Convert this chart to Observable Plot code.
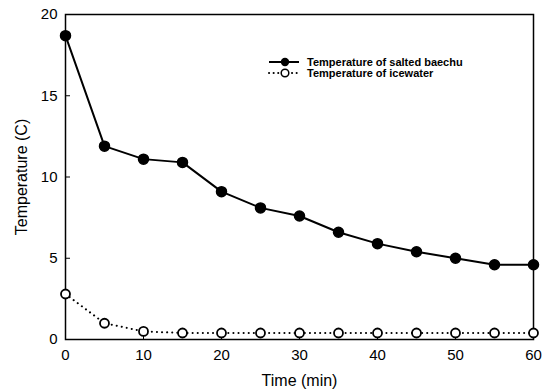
<!DOCTYPE html>
<html>
<head>
<meta charset="utf-8">
<script src="https://cdn.jsdelivr.net/npm/d3@7"></script>
<script src="https://cdn.jsdelivr.net/npm/@observablehq/plot@0.6"></script>
<style>
  html, body { margin: 0; padding: 0; background: #fff; }
  #wrap { position: relative; width: 550px; height: 392px; font-family: "Liberation Sans", Arial, sans-serif; }
  #legend { position: absolute; left: 268px; top: 57px; font-size: 11px; font-weight: bold; color: #000; }
  #legend .row { display: flex; align-items: center; height: 10.5px; margin-bottom: 0; }
  #legend svg { margin-right: 7px; }
</style>
</head>
<body>
<div id="wrap"></div>
<script>
const times = [0, 5, 10, 15, 20, 25, 30, 35, 40, 45, 50, 55, 60];
const baechu = [18.7, 11.9, 11.1, 10.9, 9.1, 8.1, 7.6, 6.6, 5.9, 5.4, 5.0, 4.6, 4.6];
const icewater = [2.8, 1.0, 0.5, 0.4, 0.4, 0.4, 0.4, 0.4, 0.4, 0.4, 0.4, 0.4, 0.4];
const seriesNames = ["Temperature of salted baechu", "Temperature of icewater"];
const xTicks = [0, 10, 20, 30, 40, 50, 60];
const yTicks = [0, 5, 10, 15, 20];

const dataB = times.map((t, i) => ({t, v: baechu[i]}));
const dataI = times.map((t, i) => ({t, v: icewater[i]}));

const W = 550, H = 392, mL = 65, mR = 17, mT = 14, mB = 53;
const tickLen = 5;

const chart = Plot.plot({
  width: W,
  height: H,
  marginLeft: mL,
  marginRight: mR,
  marginTop: mT,
  marginBottom: mB,
  style: { fontFamily: "Liberation Sans, Arial, sans-serif", fontSize: "15px", color: "#000", background: "#fff" },
  x: { domain: [0, 60] },
  y: { domain: [0, 20] },
  marks: [
    Plot.frame({ stroke: "#000", strokeWidth: 1.5 }),
    Plot.tickX(xTicks, { x: d => d, stroke: "#000", strokeWidth: 1, insetTop: H - mT - mB - tickLen }),
    Plot.tickY(yTicks, { y: d => d, stroke: "#000", strokeWidth: 1, insetRight: W - mL - mR - tickLen }),
    Plot.axisX({ ticks: xTicks, tickSize: 0, tickPadding: 10, tickFormat: d => d, label: "Time (min)", labelAnchor: "center", labelArrow: "none", labelOffset: 46, fontSize: 15 }),
    Plot.axisY({ ticks: yTicks, tickSize: 0, tickPadding: 8, tickFormat: d => d, label: "Temperature (C)", labelAnchor: "center", labelArrow: "none", labelOffset: 50, fontSize: 15 }),
    Plot.line(dataI, { x: "t", y: "v", stroke: "#000", strokeWidth: 2, strokeDasharray: "0.1,5", strokeLinecap: "round" }),
    Plot.line(dataB, { x: "t", y: "v", stroke: "#000", strokeWidth: 2 }),
    Plot.dot(dataI, { x: "t", y: "v", r: 4.5, fill: "#fff", stroke: "#000", strokeWidth: 1.8 }),
    Plot.dot(dataB, { x: "t", y: "v", r: 5, fill: "#000", stroke: "#000" })
  ]
});
const wrap = document.getElementById("wrap");
wrap.appendChild(chart);
chart.querySelectorAll("g[aria-label='x-axis label'] text, g[aria-label='y-axis label'] text").forEach(t => t.style.fontSize = "16px");

const legend = document.createElement("div");
legend.id = "legend";
const samples = [
  '<svg width="32" height="10"><line x1="1" y1="5" x2="31" y2="5" stroke="#000" stroke-width="2"/><circle cx="17" cy="5" r="4.2" fill="#000"/></svg>',
  '<svg width="32" height="10"><line x1="1" y1="5" x2="31" y2="5" stroke="#000" stroke-width="2" stroke-dasharray="0.1,4.5" stroke-linecap="round"/><circle cx="17" cy="5" r="3.8" fill="#fff" stroke="#000" stroke-width="1.5"/></svg>'
];
seriesNames.forEach((name, i) => {
  const row = document.createElement("div");
  row.className = "row";
  row.innerHTML = samples[i] + '<span>' + name + '</span>';
  legend.appendChild(row);
});
wrap.appendChild(legend);
</script>
</body>
</html>
